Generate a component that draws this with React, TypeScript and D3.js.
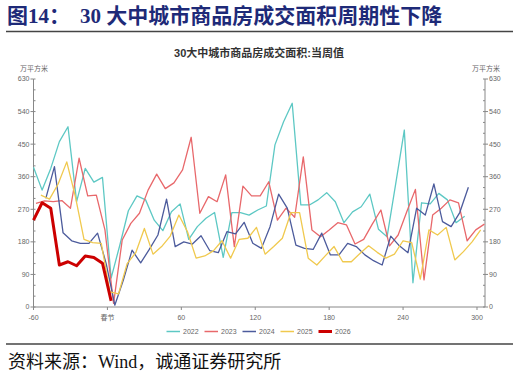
import * as d3 from "d3";

// weekly values (万平方米), x = days relative to 春节
const START_DAY: Record<string, number> = { "2022": -60, "2023": -58, "2024": -50, "2025": -54, "2026": -60 };
const STEP = 7;

const S2022 = [386, 323, 383, 457, 498, 291, 383, 345, 358, 80, 170, 266, 307, 296, 240, 211, 263, 285, 187, 222, 245, 261, 137, 261, 261, 254, 268, 279, 448, 512, 563, 282, 282, 296, 316, 291, 233, 263, 277, 312, 215, 194, 340, 489, 67, 288, 285, 314, 296, 233, 251];
const S2023 = [286, 293, 291, 294, 273, 411, 307, 309, 213, 10, 185, 231, 259, 323, 367, 327, 343, 379, 469, 259, 305, 291, 365, 167, 334, 307, 307, 346, 240, 273, 248, 415, 213, 194, 213, 233, 227, 174, 187, 229, 268, 169, 199, 263, 325, 75, 254, 273, 296, 288, 183, 213, 229];
const S2024 = [300, 388, 205, 183, 176, 176, 204, 120, 5, 75, 157, 122, 159, 199, 298, 167, 180, 174, 197, 156, 150, 208, 202, 234, 176, 162, 222, 312, 273, 171, 162, 159, 204, 144, 144, 176, 167, 144, 128, 116, 196, 169, 150, 273, 254, 340, 236, 222, 261, 331];
const S2025 = [309, 298, 340, 401, 305, 187, 178, 176, 42, 36, 120, 150, 217, 146, 167, 196, 254, 208, 135, 141, 155, 183, 135, 187, 190, 220, 146, 167, 190, 261, 261, 135, 116, 142, 167, 125, 125, 148, 169, 151, 135, 146, 183, 178, 77, 213, 199, 220, 130, 153, 180, 213];
const S2026 = [240, 288, 273, 116, 125, 114, 141, 137, 121, 17];

const SERIES = [
  { name: "2022", values: S2022, color: "#5DC8C4", width: 1.3 },
  { name: "2023", values: S2023, color: "#E8686B", width: 1.3 },
  { name: "2024", values: S2024, color: "#4C5B9C", width: 1.3 },
  { name: "2025", values: S2025, color: "#F0C94E", width: 1.3 },
  { name: "2026", values: S2026, color: "#CC0000", width: 3 },
];

const X_TICKS = [-60, 0, 60, 120, 180, 240, 300];
const Y_TICKS = d3.range(0, 631, 90);
const Y_MINOR = d3.range(0, 631, 30);

const W = 519;
const H = 375;
const left = 33.5;
const right = 485;
const top = 79;
const bottom = 307;

export default function App() {
  const x = d3.scaleLinear().domain([-60, 306.5]).range([left, right]);
  const y = d3.scaleLinear().domain([0, 630]).range([bottom, top]);
  const line = d3.line<[number, number]>().x(d => x(d[0])).y(d => y(d[1]));
  const gray = "#666";

  return (
    <svg width={W} height={H} style={{ position: "absolute", left: 0, top: 0 }}
      fontFamily="'Liberation Sans', 'Noto Sans CJK SC', sans-serif">
      <rect width={W} height={H} fill="#fff" />
      <text x={7} y={23} fontSize={21} fontWeight="bold" fill="#1E2A78"
        fontFamily="'Liberation Serif', 'Noto Sans CJK SC', serif">图14：<tspan x={80}>30 大中城市商品房成交面积周期性下降</tspan></text>
      <line x1={6} x2={513} y1={31.5} y2={31.5} stroke="#444" strokeWidth={1.5} />
      <text x={259} y={57} fontSize={11} fontWeight="bold" fill="#333" textAnchor="middle">30大中城市商品房成交面积:当周值</text>
      <text x={20} y={71} fontSize={7} fill={gray}>万平方米</text>
      <text x={472} y={71} fontSize={7} fill={gray}>万平方米</text>

      {/* left axis */}
      <line x1={left} x2={left} y1={top} y2={bottom} stroke="#888" />
      {Y_MINOR.map(v => (
        <line key={"lm" + v} x1={left} x2={left + 2} y1={y(v)} y2={y(v)} stroke="#888" />
      ))}
      {Y_TICKS.map(v => (
        <g key={"l" + v}>
          <line x1={left - 3} x2={left} y1={y(v)} y2={y(v)} stroke="#888" />
          <text x={left - 4} y={y(v)} dy="0.35em" fontSize={7} fill={gray} textAnchor="end">{v}</text>
        </g>
      ))}

      {/* right axis */}
      <line x1={right} x2={right} y1={top} y2={bottom} stroke="#888" />
      {Y_MINOR.map(v => (
        <line key={"rm" + v} x1={right - 2} x2={right} y1={y(v)} y2={y(v)} stroke="#888" />
      ))}
      {Y_TICKS.map(v => (
        <g key={"r" + v}>
          <line x1={right} x2={right + 3} y1={y(v)} y2={y(v)} stroke="#888" />
          <text x={right + 4} y={y(v)} dy="0.35em" fontSize={7} fill={gray}>{v}</text>
        </g>
      ))}

      {/* x axis */}
      <line x1={left} x2={right} y1={bottom} y2={bottom} stroke="#888" />
      {X_TICKS.map(d => (
        <g key={"x" + d}>
          <line x1={x(d)} x2={x(d)} y1={bottom} y2={bottom + 3} stroke="#888" />
          <text x={x(d)} y={319.5} fontSize={7} fill={gray} textAnchor="middle">{d === 0 ? "春节" : d}</text>
        </g>
      ))}

      {SERIES.map(s => (
        <path key={s.name} fill="none" stroke={s.color} strokeWidth={s.width} strokeLinejoin="round"
          d={line(s.values.map((v, i) => [START_DAY[s.name] + i * STEP, v] as [number, number])) ?? ""} />
      ))}

      {/* legend */}
      {SERIES.map((s, i) => (
        <g key={"lg" + s.name} transform={`translate(${166.5 + i * 38},331.5)`}>
          <line x1={0} x2={13.5} y1={0} y2={0} stroke={s.color} strokeWidth={s.width === 3 ? 3 : 1.5} />
          <text x={16.5} y={0} dy="0.35em" fontSize={7} fill={gray}>{s.name}</text>
        </g>
      ))}

      <line x1={6} x2={513} y1={344} y2={344} stroke="#444" strokeWidth={1.5} />
      <text x={8} y={368} fontSize={18} fill="#111"
        fontFamily="'Liberation Serif', 'Noto Sans CJK SC', serif">资料来源：Wind，诚通证券研究所</text>
    </svg>
  );
}
